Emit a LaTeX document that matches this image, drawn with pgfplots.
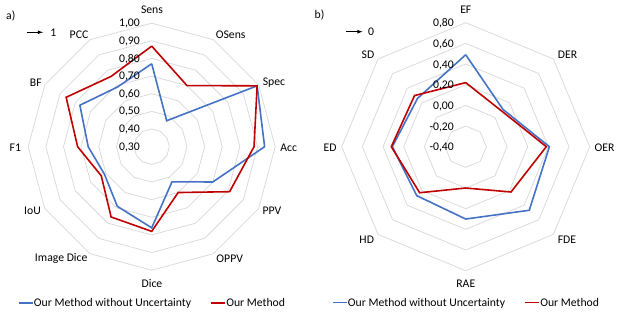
\documentclass[border=0pt]{standalone}
\usepackage{fontspec}
\setmainfont{Carlito}
\usepackage{pgfplots}
\pgfplotsset{compat=1.18}
\usepackage{pgfplotstable}

\definecolor{cblue}{RGB}{68,114,196}
\definecolor{cred}{RGB}{192,0,0}
\definecolor{cgrid}{RGB}{217,217,217}

% Left radar: Sens, OSens, Spec, Acc, PPV, OPPV, Dice, Image Dice, IoU, F1, BF, PCC
\pgfplotstableread{
a v
90 0.77
60 0.47
30 0.99
0 0.94
-30 0.70
-60 0.53
-90 0.76
-120 0.69
-150 0.61
180 0.66
150 0.77
120 0.69
90 0.77
}\leftwo
\pgfplotstableread{
a v
90 0.87
60 0.70
30 0.99
0 0.88
-30 0.81
-60 0.60
-90 0.78
-120 0.76
-150 0.63
180 0.72
150 0.86
120 0.76
90 0.87
}\leftours
\pgfplotstableread{
a d
90 0
60 0
30 0
0 0
-30 0
-60 0
-90 0
-120 0
-150 0
180 0
150 0
120 0
90 0
}\leftang

% Right radar: EF, DER, OER, FDE, RAE, HD, ED, SD
\pgfplotstableread{
a v
90 0.49
45 0.11
0 0.41
-45 0.47
-90 0.30
-135 0.27
180 0.31
135 0.26
90 0.49
}\rightwo
\pgfplotstableread{
a v
90 0.22
45 0.09
0 0.38
-45 0.22
-90 0.00
-135 0.23
180 0.32
135 0.30
90 0.22
}\rightours
\pgfplotstableread{
a d
90 0
45 0
0 0
-45 0
-90 0
-135 0
180 0
135 0
90 0
}\rightang

\pgfplotsset{
  radar/.style={
    hide axis, clip=false, xmin=-1, xmax=1, ymin=-1, ymax=1,
    legend columns=2,
    legend image code/.code={\draw[##1, line width=1.6pt] (0pt,0pt)--(14pt,0pt);},
    legend style={draw=none, fill=none, anchor=center,
      font=\fontsize{11.7}{14}\selectfont,
      nodes={inner xsep=0.5pt, inner ysep=1pt},
      /tikz/every even column/.append style={column sep=18.5pt}},
  },
  gridring/.style={cgrid, line width=0.75pt, forget plot},
}

\begin{document}
\begin{tikzpicture}[font=\fontsize{11.7}{14}\selectfont]
\path[use as bounding box] (0,0) rectangle (623pt,312pt);

% ---------- Left chart ----------
\begin{axis}[radar, at={(151.7pt,165.3pt)}, anchor=center, x=123.5pt, y=123.5pt,
  legend style={at={(0.5,-0.1316)}}]
\pgfplotsinvokeforeach{0.4,0.5,0.6,0.7,0.8,0.9,1.0}{
  \addplot[gridring] table[x expr={(#1-0.3)/0.7*cos(\thisrow{a})}, y expr={(#1-0.3)/0.7*sin(\thisrow{a})}] \leftang;
}
\addplot[cblue, line width=1.6pt, line join=miter] table[x expr={(\thisrow{v}-0.3)/0.7*cos(\thisrow{a})}, y expr={(\thisrow{v}-0.3)/0.7*sin(\thisrow{a})}] \leftwo;
\addplot[cred, line width=1.6pt, line join=miter] table[x expr={(\thisrow{v}-0.3)/0.7*cos(\thisrow{a})}, y expr={(\thisrow{v}-0.3)/0.7*sin(\thisrow{a})}] \leftours;
\legend{Our Method without Uncertainty, Our Method}
\end{axis}

% ---------- Right chart ----------
\begin{axis}[radar, at={(465.7pt,165.3pt)}, anchor=center, x=124pt, y=124pt,
  legend style={at={(0.5,-0.129)}}]
\pgfplotsinvokeforeach{-0.2,0.0,0.2,0.4,0.6,0.8}{
  \addplot[gridring] table[x expr={(#1+0.4)/1.2*cos(\thisrow{a})}, y expr={(#1+0.4)/1.2*sin(\thisrow{a})}] \rightang;
}
\addplot[cblue, line width=1.6pt, line join=miter] table[x expr={(\thisrow{v}+0.4)/1.2*cos(\thisrow{a})}, y expr={(\thisrow{v}+0.4)/1.2*sin(\thisrow{a})}] \rightwo;
\addplot[cred, line width=1.6pt, line join=miter] table[x expr={(\thisrow{v}+0.4)/1.2*cos(\thisrow{a})}, y expr={(\thisrow{v}+0.4)/1.2*sin(\thisrow{a})}] \rightours;
\legend{Our Method without Uncertainty, Our Method}
\end{axis}

% ---------- Left labels ----------
\node at (152pt,302pt) {Sens};
\node at (230.7pt,277pt) {OSens};
\node at (274pt,229.3pt) {Spec};
\node at (288.7pt,164.7pt) {Acc};
\node at (272pt,101pt) {PPV};
\node at (229.7pt,53.7pt) {OPPV};
\node at (152pt,28.7pt) {Dice};
\node at (61.2pt,53.7pt) {Image Dice};
\node at (32.5pt,101pt) {IoU};
\node at (15.3pt,164.7pt) {F1};
\node at (35.8pt,229.3pt) {BF};
\node at (79pt,277pt) {PCC};
\begin{scope}[every node/.style={anchor=east, inner sep=0pt}]
\node at (140pt,288.5pt) {1,00};
\node at (140pt,270.9pt) {0,90};
\node at (140pt,253.2pt) {0,80};
\node at (140pt,235.6pt) {0,70};
\node at (140pt,218.0pt) {0,60};
\node at (140pt,200.3pt) {0,50};
\node at (140pt,182.7pt) {0,40};
\node at (140pt,165.0pt) {0,30};
\end{scope}

% ---------- Right labels ----------
\node at (465.8pt,302pt) {EF};
\node at (567.5pt,257pt) {DER};
\node at (604.5pt,164.7pt) {OER};
\node at (567pt,72.7pt) {FDE};
\node at (465.8pt,28pt) {RAE};
\node at (366.7pt,72.7pt) {HD};
\node at (330pt,164.7pt) {ED};
\node at (368pt,257pt) {SD};
\begin{scope}[every node/.style={anchor=east, inner sep=0pt}]
\node at (454pt,288.3pt) {0,80};
\node at (454pt,267.7pt) {0,60};
\node at (454pt,247.0pt) {0,40};
\node at (454pt,226.3pt) {0,20};
\node at (454pt,205.7pt) {0,00};
\node at (454pt,185.0pt) {-0,20};
\node at (454pt,164.4pt) {-0,40};
\end{scope}

% ---------- panel tags and arrows ----------
\node at (10.8pt,296pt) {a)};
\node at (319.5pt,297pt) {b)};
\draw[-latex, line width=0.8pt] (26.7pt,279.7pt) -- (43pt,279.7pt);
\node at (53.3pt,279.7pt) {1};
\draw[-latex, line width=0.8pt] (346pt,280.3pt) -- (362.5pt,280.3pt);
\node at (371pt,280.3pt) {0};
\end{tikzpicture}
\end{document}
